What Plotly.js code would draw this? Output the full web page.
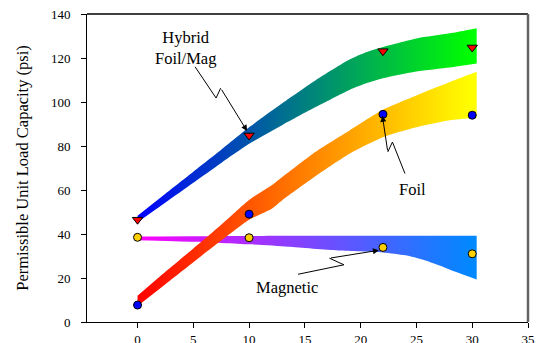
<!DOCTYPE html>
<html>
<head>
<meta charset="utf-8">
<script src="https://cdn.plot.ly/plotly-3.0.1.min.js"></script>
<style>html,body{margin:0;padding:0;background:#fff;}#chart{width:541px;height:343px;}</style>
</head>
<body>
<div id="chart"></div>
<script>
// ---- data ----
var hybridBandX = [0, 2.5, 5, 7.5, 10, 13, 16, 19, 20.5, 22, 25, 28, 30.4];
var hybridUpper = [48.3, 58.3, 68.3, 78.3, 88.5, 99.5, 110, 119.3, 122.6, 125, 128.9, 131.2, 133.5];
var hybridLower = [45.3, 54.3, 63.3, 72.3, 81, 89.6, 97.8, 105.5, 108.5, 110.8, 113.9, 115.7, 117.5];

var foilBandX = [0, 2.5, 5, 7.5, 10, 12, 13, 16, 19, 22, 25, 28, 30.4];
var foilUpper = [11.9, 22.8, 33.4, 44.2, 55.5, 62, 66, 77.5, 87.1, 96.5, 103, 109.1, 113.7];
var foilLower = [7.3, 17.2, 27.2, 37, 46.5, 51.4, 55.5, 66.5, 76.5, 84, 88.5, 91.7, 92.8];

var magBandX = [0, 5, 10, 13.5, 18, 22, 24, 25.6, 27, 28.5, 30.4];
var magUpper = [38.9, 39, 39.1, 39.2, 39.2, 39.2, 39.2, 39.2, 39.2, 39.2, 39.2];
var magLower = [37.2, 36.5, 35.3, 34.2, 32.5, 31.6, 30.3, 28.3, 25.8, 22.8, 19.3];

var pointX = [0, 10, 22, 30];
var hybridPts = [46.5, 84.8, 123.1, 124.8];
var foilPts = [7.7, 49, 94.4, 94];
var magPts = [38.5, 38.3, 33.9, 31];

var xTicks = [0, 5, 10, 15, 20, 25, 30, 35];
var yTicks = [0, 20, 40, 60, 80, 100, 120, 140];

var labelHybrid = "Hybrid<br>Foil/Mag";
var labelFoil = "Foil";
var labelMag = "Magnetic";
var yTitle = "Permissible Unit Load Capacity (psi)";

// ---- helpers ----
function band(xs, up, lo, c0, c1) {
  var lower = {
    x: xs, y: lo, type: 'scatter', mode: 'lines',
    line: {width: 0, color: 'rgba(0,0,0,0)', shape: 'spline', smoothing: 0.6},
    hoverinfo: 'skip', showlegend: false
  };
  var upper = {
    x: xs, y: up, type: 'scatter', mode: 'lines', fill: 'tonexty',
    line: {width: 0, color: 'rgba(0,0,0,0)', shape: 'spline', smoothing: 0.6},
    fillcolor: c0,
    fillgradient: {type: 'horizontal', start: 0, stop: 30, colorscale: [[0, c0], [1, c1]]},
    hoverinfo: 'skip', showlegend: false
  };
  return [lower, upper];
}
function pts(ys, sym, color, size) {
  return {
    x: pointX, y: ys, type: 'scatter', mode: 'markers', showlegend: false,
    marker: {symbol: sym, color: color, size: size, line: {color: '#000', width: 1}},
    hoverinfo: 'skip'
  };
}

var traces = [].concat(
  band(magBandX, magUpper, magLower, 'rgb(255,0,255)', 'rgb(0,136,255)'),
  band(foilBandX, foilUpper, foilLower, 'rgb(255,0,0)', 'rgb(255,255,0)'),
  band(hybridBandX, hybridUpper, hybridLower, 'rgb(0,0,255)', 'rgb(0,255,0)'),
  [pts(hybridPts, 'triangle-down', 'rgb(255,0,0)', 9),
   pts(foilPts, 'circle', 'rgb(0,0,255)', 8),
   pts(magPts, 'circle', 'rgb(255,208,0)', 8)]
);

var serif = 'Liberation Serif, Times New Roman, serif';

function zig(p) {
  var d = 'M ' + p[0][0] + ' ' + p[0][1];
  for (var i = 1; i < p.length; i++) d += ' L ' + p[i][0] + ' ' + p[i][1];
  return {type: 'path', xref: 'x', yref: 'y', path: d, line: {color: '#000', width: 1}};
}

var shapes = [
  zig([[5.16, 116.0], [7.04, 101.8], [7.45, 106.3]]),
  zig([[23.97, 67.5], [22.85, 81.8], [22.43, 77.3]]),
  zig([[14.39, 21.7], [18.5, 26.0], [17.2, 29.0]]),
  {type: 'line', xref: 'paper', yref: 'paper', x0: 0, x1: 1, y0: 1, y1: 1, line: {color: '#000', width: 1.5}},
  {type: 'line', xref: 'paper', yref: 'paper', x0: 1, x1: 1, y0: 0, y1: 1, line: {color: 'rgb(100,100,100)', width: 2.5}}
];

function arrow(x0, y0, x1, y1) {
  return {x: x1, y: y1, ax: x0, ay: y0, axref: 'x', ayref: 'y', xref: 'x', yref: 'y',
    text: '', showarrow: true, arrowhead: 2, arrowsize: 1.2, arrowwidth: 1, arrowcolor: '#000'};
}

var annotations = [
  arrow(7.45, 106.3, 9.82, 86.8),
  arrow(22.43, 77.3, 21.95, 93.7),
  arrow(17.2, 29.0, 21.64, 32.6),
  {x: 4.27, y: 124.6, xref: 'x', yref: 'y', text: labelHybrid, showarrow: false,
   font: {family: serif, size: 16.5, color: '#000'}},
  {x: 24.65, y: 60.4, xref: 'x', yref: 'y', text: labelFoil, showarrow: false,
   font: {family: serif, size: 16.5, color: '#000'}},
  {x: 13.37, y: 15.8, xref: 'x', yref: 'y', text: labelMag, showarrow: false,
   font: {family: serif, size: 16.5, color: '#000'}}
];

var layout = {
  width: 541, height: 343,
  margin: {l: 87, r: 13, t: 14, b: 21, pad: 0},
  paper_bgcolor: '#fff', plot_bgcolor: '#fff',
  showlegend: false,
  font: {family: serif, size: 13, color: '#000'},
  xaxis: {
    range: [-4.53, 35], tickvals: xTicks, ticktext: xTicks.map(String),
    showgrid: false, zeroline: false, showline: true, linecolor: '#000', linewidth: 1,
    ticks: 'outside', ticklen: 5, tickcolor: '#000', tickwidth: 1,
    tickfont: {family: serif, size: 13, color: '#000'}
  },
  yaxis: {
    range: [0, 140], tickvals: yTicks, ticktext: yTicks.map(String),
    showgrid: false, zeroline: false, showline: true, linecolor: '#000', linewidth: 1,
    ticks: 'outside', ticklen: 5, tickcolor: '#000', tickwidth: 1,
    ticklabelstandoff: 8,
    tickfont: {family: serif, size: 13, color: '#000'},
    title: {text: yTitle, font: {family: serif, size: 16.5, color: '#000'}, standoff: 18}
  },
  shapes: shapes,
  annotations: annotations
};

Plotly.newPlot('chart', traces, layout, {displayModeBar: false, staticPlot: true});
</script>
</body>
</html>
